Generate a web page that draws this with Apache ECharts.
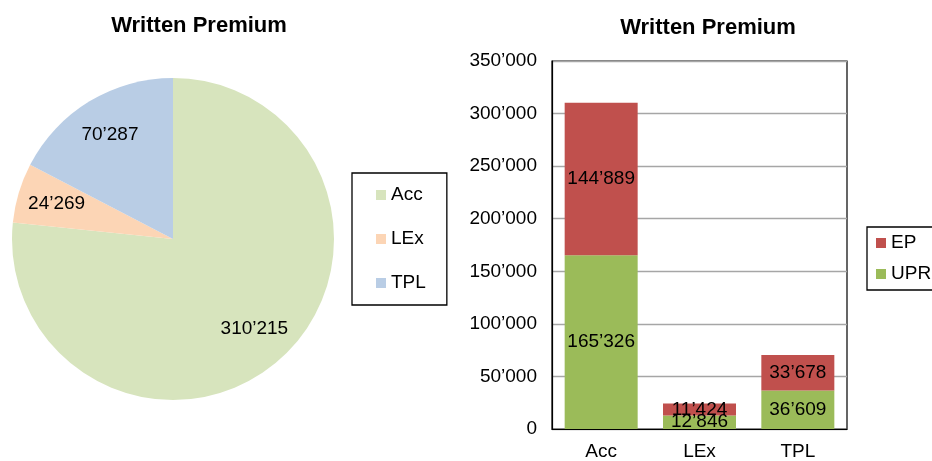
<!DOCTYPE html>
<html>
<head>
<meta charset="utf-8">
<script src="https://cdn.jsdelivr.net/npm/echarts@6/dist/echarts.min.js"></script>
<style>
html,body{margin:0;padding:0;background:#fff;}
#c{width:932px;height:461px;}
</style>
</head>
<body>
<div id="c"></div>
<script>
// ---- data ----
var pieCategories = ['Acc', 'LEx', 'TPL'];
var pieValues = [310215, 24269, 70287];
var pieColors = ['#D7E4BD', '#FCD5B5', '#B9CDE5'];

var barCategories = ['Acc', 'LEx', 'TPL'];
var uprValues = [165326, 12846, 36609];
var epValues = [144889, 11424, 33678];
var barSeriesNames = ['EP', 'UPR'];
var yMin = 0, yMax = 350000, yInterval = 50000;

var titleText = 'Written Premium';

// ---- helpers ----
var FONT = '"Liberation Sans", Arial, sans-serif';
function fmt(v) {
  return String(v).replace(/\B(?=(\d{3})+(?!\d))/g, '\u2019');
}

var pieData = pieCategories.map(function (n, i) {
  return { name: n, value: pieValues[i], itemStyle: { color: pieColors[i] } };
});
var pieLabelData = pieCategories.map(function (n, i) {
  return { name: n, value: pieValues[i] };
});

var chart = echarts.init(document.getElementById('c'), null, { renderer: 'canvas' });
chart.setOption({
  animation: false,
  backgroundColor: '#fff',
  textStyle: { fontFamily: FONT },
  title: [
    { text: titleText, left: 194, top: 10, textAlign: 'center',
      textStyle: { fontFamily: FONT, fontSize: 22, fontWeight: 'bold', color: '#000' } },
    { text: titleText, left: 703, top: 12, textAlign: 'center',
      textStyle: { fontFamily: FONT, fontSize: 22, fontWeight: 'bold', color: '#000' } }
  ],
  legend: [
    {
      orient: 'vertical', left: 352, top: 173,
      padding: [12, 21, 12, 24],
      itemGap: 24, itemWidth: 10, itemHeight: 10, icon: 'rect',
      borderColor: '#000', borderWidth: 1.3,
      textStyle: { fontFamily: FONT, fontSize: 19, color: '#000', lineHeight: 20 },
      data: pieCategories.map(function (n, i) { return { name: n, itemStyle: { color: pieColors[i] } }; })
    },
    {
      orient: 'vertical', left: 867, top: 227,
      padding: [6, 10, 6, 9],
      itemGap: 11, itemWidth: 10, itemHeight: 10, icon: 'rect',
      borderColor: '#000', borderWidth: 1.3,
      textStyle: { fontFamily: FONT, fontSize: 19, color: '#000', lineHeight: 20 },
      data: barSeriesNames
    }
  ],
  grid: {
    left: 552, top: 61, width: 295, height: 370,
    show: true, borderColor: '#000', borderWidth: 1.2, backgroundColor: 'transparent'
  },
  xAxis: {
    type: 'category', data: barCategories,
    axisLine: { show: true, lineStyle: { color: '#000', width: 1.2 } },
    axisTick: { show: false },
    axisLabel: { fontFamily: FONT, fontSize: 19, color: '#000', margin: 13 }
  },
  yAxis: {
    type: 'value', min: yMin, max: yMax, interval: yInterval,
    axisLine: { show: true, lineStyle: { color: '#000', width: 1.2 } },
    axisTick: { show: false },
    splitLine: { show: true, lineStyle: { color: '#A6A6A6', width: 1.3 } },
    axisLabel: { fontFamily: FONT, fontSize: 19, color: '#000', margin: 15, formatter: fmt }
  },
  series: [
    {
      type: 'pie', name: 'pie', center: [173, 239], radius: [0, 161],
      startAngle: 90, clockwise: true,
      label: { show: false }, labelLine: { show: false },
      silent: true,
      data: pieData
    },
    {
      type: 'pie', name: 'pieLabels', center: [173, 239], radius: [76, 161],
      startAngle: 90, clockwise: true, silent: true,
      itemStyle: { color: 'rgba(0,0,0,0)' },
      label: {
        show: true, position: 'inside', fontFamily: FONT, fontSize: 19, color: '#000',
        formatter: function (p) { return fmt(p.value); }
      },
      labelLine: { show: false },
      data: pieLabelData
    },
    {
      type: 'bar', name: 'UPR', stack: 'wp', barWidth: 73,
      itemStyle: { color: '#9BBB59' },
      label: { show: true, position: 'inside', fontFamily: FONT, fontSize: 19, color: '#000',
        formatter: function (p) { return fmt(p.value); } },
      data: uprValues
    },
    {
      type: 'bar', name: 'EP', stack: 'wp', barWidth: 73,
      itemStyle: { color: '#C0504D' },
      label: { show: true, position: 'inside', fontFamily: FONT, fontSize: 19, color: '#000',
        formatter: function (p) { return fmt(p.value); } },
      data: epValues
    }
  ]
});
</script>
</body>
</html>
